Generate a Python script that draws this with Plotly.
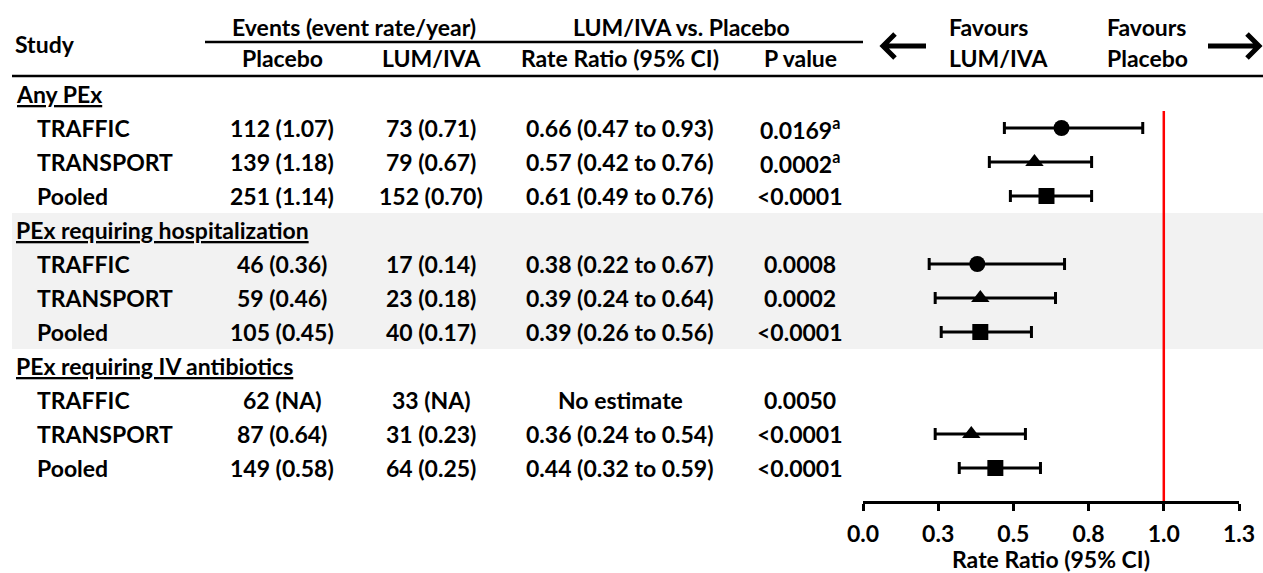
import plotly.graph_objects as go

# ---- data -------------------------------------------------------------
outcomes = ["Any PEx", "PEx requiring hospitalization", "PEx requiring IV antibiotics"]
studies = ["TRAFFIC", "TRANSPORT", "Pooled"]
symbols = ["circle", "triangle-up", "square"]

placebo_n = [112, 139, 251, 46, 59, 105, 62, 87, 149]
placebo_rate = [1.07, 1.18, 1.14, 0.36, 0.46, 0.45, None, 0.64, 0.58]
lumiva_n = [73, 79, 152, 17, 23, 40, 33, 31, 64]
lumiva_rate = [0.71, 0.67, 0.70, 0.14, 0.18, 0.17, None, 0.23, 0.25]

rate_ratio = [0.66, 0.57, 0.61, 0.38, 0.39, 0.39, None, 0.36, 0.44]
ci_low = [0.47, 0.42, 0.49, 0.22, 0.24, 0.26, None, 0.24, 0.32]
ci_high = [0.93, 0.76, 0.76, 0.67, 0.64, 0.56, None, 0.54, 0.59]
p_values = ["0.0169<sup>a</sup>", "0.0002<sup>a</sup>", "&lt;0.0001",
            "0.0008", "0.0002", "&lt;0.0001",
            "0.0050", "&lt;0.0001", "&lt;0.0001"]

tick_vals = [0.0, 0.25, 0.5, 0.75, 1.0, 1.25]
tick_text = ["0.0", "0.3", "0.5", "0.8", "1.0", "1.3"]

# ---- layout helpers ---------------------------------------------------
W, H = 1263, 573
ROW0, ROW_H = 94, 34          # pixel centre of first row, row pitch
FONT = "Lato"
FS = 23
BLACK = "#000000"


def px(x):
    return x / W


def py(y):
    return 1 - y / H


def row_paper(r):
    return py(ROW0 + ROW_H * r)


def fmt_events(n, rate):
    return f"{n} ({'NA' if rate is None else f'{rate:.2f}'})"


fig = go.Figure()

# forest markers with CI whiskers, one trace per study type
for s_idx, (study, sym) in enumerate(zip(studies, symbols)):
    xs, ys, plus, minus = [], [], [], []
    for g in range(len(outcomes)):
        k = g * 3 + s_idx
        if rate_ratio[k] is None:
            continue
        xs.append(rate_ratio[k])
        ys.append(1 + g * 4 + s_idx)
        plus.append(ci_high[k] - rate_ratio[k])
        minus.append(rate_ratio[k] - ci_low[k])
    fig.add_trace(go.Scatter(
        x=xs, y=ys, mode="markers", name=study,
        marker=dict(symbol=sym, size=16, color=BLACK, line=dict(width=0)),
        error_x=dict(type="data", symmetric=False, array=plus, arrayminus=minus,
                     color=BLACK, thickness=3, width=6),
        hoverinfo="skip", showlegend=False,
    ))

annotations = []


def add_text(text, x, y, xanchor="center", yref="y"):
    annotations.append(dict(
        text=text, x=x, y=y, xref="paper", yref=yref, xanchor=xanchor,
        yanchor="middle", showarrow=False,
        font=dict(family=FONT, size=FS, color=BLACK, weight="bold"),
    ))


# column headers
add_text("Events (event rate/year)", px(354), py(27), yref="paper")
add_text("LUM/IVA vs. Placebo", px(682), py(27), yref="paper")
add_text("Study", px(13), py(44), xanchor="left", yref="paper")
add_text("Placebo", px(282), py(58), yref="paper")
add_text("LUM/IVA", px(431), py(58), yref="paper")
add_text("Rate Ratio (95% CI)", px(620), py(58), yref="paper")
add_text("P value", px(800), py(58), yref="paper")
add_text("Favours", px(947), py(27), xanchor="left", yref="paper")
add_text("LUM/IVA", px(947), py(58), xanchor="left", yref="paper")
add_text("Favours", px(1105), py(27), xanchor="left", yref="paper")
add_text("Placebo", px(1105), py(58), xanchor="left", yref="paper")

# table body
for g, outcome in enumerate(outcomes):
    add_text(f"<u>{outcome}</u>", px(14), g * 4, xanchor="left")
    for s_idx, study in enumerate(studies):
        k = g * 3 + s_idx
        r = 1 + g * 4 + s_idx
        add_text(study, px(35), r, xanchor="left")
        add_text(fmt_events(placebo_n[k], placebo_rate[k]), px(282), r)
        add_text(fmt_events(lumiva_n[k], lumiva_rate[k]), px(431), r)
        if rate_ratio[k] is None:
            rr_txt = "No estimate"
        else:
            rr_txt = f"{rate_ratio[k]:.2f} ({ci_low[k]:.2f} to {ci_high[k]:.2f})"
        add_text(rr_txt, px(620), r)
        add_text(p_values[k], px(800), r)

shapes = [
    # shaded middle block
    dict(type="rect", xref="paper", yref="paper", x0=px(12), x1=1,
         y0=row_paper(7.5), y1=row_paper(3.5), fillcolor="#f2f2f2",
         line=dict(width=0), layer="below"),
    # header rules
    dict(type="line", xref="paper", yref="paper", x0=px(205), x1=px(863),
         y0=py(42), y1=py(42), line=dict(color=BLACK, width=2.5)),
    dict(type="line", xref="paper", yref="paper", x0=px(12), x1=1,
         y0=py(76), y1=py(76), line=dict(color=BLACK, width=2.5)),
    # line of no effect
    dict(type="line", xref="x", yref="y", x0=1.0, x1=1.0, y0=0.5, y1=12,
         line=dict(color="#ff0000", width=2.5), layer="below"),
]


def arrow_path(tail, tip, yc, head):
    d = 1 if tip > tail else -1
    return (f"M{px(tail)},{py(yc)} L{px(tip)},{py(yc)} "
            f"M{px(tip - d * head)},{py(yc - head)} L{px(tip)},{py(yc)} "
            f"L{px(tip - d * head)},{py(yc + head)}")


for tail, tip in [(926, 883), (1208, 1259)]:
    shapes.append(dict(type="path", xref="paper", yref="paper",
                       path=arrow_path(tail, tip, 46, 12),
                       line=dict(color=BLACK, width=5)))

fig.update_layout(
    width=W, height=H,
    margin=dict(l=0, r=0, t=0, b=0),
    paper_bgcolor="white", plot_bgcolor="rgba(0,0,0,0)",
    font=dict(family=FONT, size=FS, color=BLACK, weight="bold"),
    annotations=annotations, shapes=shapes, showlegend=False,
    xaxis=dict(
        domain=[px(863), px(1239)], range=[0, 1.25],
        anchor="free", position=py(502),
        showline=True, linecolor=BLACK, linewidth=2.5,
        ticks="outside", ticklen=7, tickwidth=2.5, tickcolor=BLACK,
        tickvals=tick_vals, ticktext=tick_text, ticklabelstandoff=4,
        tickfont=dict(family=FONT, size=FS, color=BLACK, weight="bold"),
        showgrid=False, zeroline=False, fixedrange=True, automargin=False,
        title=dict(text="Rate Ratio (95% CI)", standoff=8,
                   font=dict(family=FONT, size=FS, color=BLACK, weight="bold")),
    ),
    yaxis=dict(
        domain=[0, 1], visible=False, fixedrange=True,
        range=[(H - ROW0) / ROW_H, -ROW0 / ROW_H],
    ),
)

fig.write_html("out.html")
